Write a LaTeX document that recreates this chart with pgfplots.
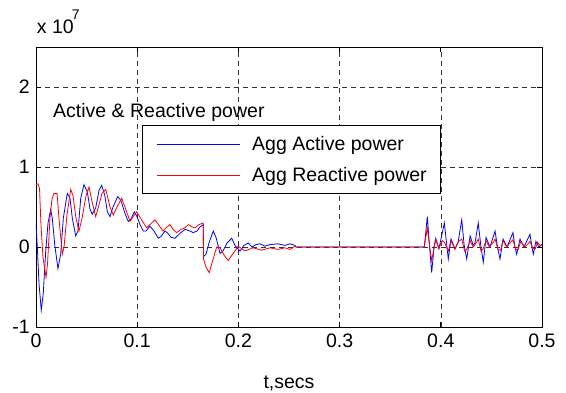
\documentclass[border=0pt]{standalone}
\usepackage{pgfplots}
\pgfplotsset{compat=1.18}
\usepackage{fontspec}
\setmainfont{Liberation Sans}
\definecolor{mblue}{RGB}{0,0,255}
\definecolor{mred}{RGB}{255,0,0}
\begin{document}
\begin{tikzpicture}
\useasboundingbox (-36pt,-65pt) rectangle (530pt,327pt);
\begin{axis}[
  at={(0pt,0pt)}, anchor=south west,
  scale only axis, width=506pt, height=280pt,
  xmin=0, xmax=0.5, ymin=-1, ymax=2.5,
  xtick={0,0.1,0.2,0.3,0.4,0.5},
  xticklabels={0,0.1,0.2,0.3,0.4,0.5},
  ytick={-1,0,1,2},
  yticklabels={-1,0,1,2},
  font=\fontsize{19.5}{23}\selectfont,
  xticklabel style={inner sep=0pt, yshift=-7pt},
  yticklabel style={inner sep=0pt, xshift=-6pt},
  tick align=inside, major tick length=5pt,
  tick style={black, line width=0.6pt},
  axis line style={black, line width=0.8pt},
  grid=major,
  major grid style={black!80, line width=0.5pt, dash pattern=on 5pt off 4pt},
  xlabel={t,secs},
  xlabel style={at={(rel axis cs:0.5,0)}, anchor=base, yshift=-61pt, inner sep=0pt},
  legend style={at={(rel axis cs:0.2095,0.721)}, anchor=north west,
    draw=black, line width=0.8pt, fill=white,
    inner xsep=14pt, inner ysep=11pt, row sep=15pt,
    nodes={inner sep=0pt},
    /tikz/every odd column/.append style={column sep=12pt},
    font=\fontsize{19.5}{23}\selectfont},
  legend cell align=left,
  legend image code/.code={\draw[#1] (0pt,0pt) -- (83pt,0pt);},
  clip=true,
]
\addplot[mblue, line width=0.8pt] coordinates {
(0.0000,0.30) (0.0013,0.00) (0.0030,-0.46) (0.0052,-0.79) (0.0072,-0.58)
(0.0096,-0.05) (0.0119,0.30) (0.0145,0.47) (0.0161,0.36) (0.0185,0.03)
(0.0217,-0.27) (0.0244,-0.09) (0.0270,0.36) (0.0309,0.67) (0.0336,0.61)
(0.0359,0.36) (0.0392,0.14) (0.0415,0.20) (0.0442,0.61) (0.0474,0.78)
(0.0507,0.69) (0.0534,0.47) (0.0556,0.41) (0.0590,0.49) (0.0623,0.71)
(0.0649,0.77) (0.0679,0.65) (0.0705,0.44) (0.0731,0.38) (0.0761,0.50)
(0.0807,0.63) (0.0840,0.58) (0.0879,0.42) (0.0912,0.32) (0.0939,0.35)
(0.0971,0.44) (0.0998,0.38) (0.1028,0.28) (0.1060,0.20) (0.1087,0.20)
(0.1126,0.26) (0.1166,0.20) (0.1208,0.11) (0.1235,0.13) (0.1275,0.20)
(0.1304,0.17) (0.1334,0.12) (0.1374,0.11) (0.1423,0.17) (0.1472,0.22)
(0.1522,0.20) (0.1554,0.18) (0.1591,0.20) (0.1621,0.25) (0.1653,0.28)
(0.1655,-0.12) (0.1680,-0.09) (0.1709,0.05) (0.1752,0.20) (0.1779,0.12)
(0.1818,-0.08) (0.1848,-0.05) (0.1887,0.05) (0.1934,0.11) (0.1966,0.02)
(0.2016,-0.05) (0.2055,0.02) (0.2098,0.05) (0.2134,0.00) (0.2174,0.03)
(0.2213,0.04) (0.2263,0.01) (0.2312,0.03) (0.2391,0.04) (0.2460,0.02)
(0.2510,0.04) (0.2559,0.02) (0.2569,0.00) (0.3837,0.00)
(0.3867,0.38) (0.3883,0.10) (0.3910,-0.32) (0.3933,0.00) (0.3950,0.11)
(0.3982,-0.02) (0.4035,0.30) (0.4074,-0.15) (0.4101,0.10) (0.4140,-0.02)
(0.4170,0.05) (0.4207,0.34) (0.4230,0.03) (0.4256,-0.15) (0.4290,0.14)
(0.4320,0.02) (0.4338,0.05) (0.4370,0.30) (0.4397,0.00) (0.4420,-0.19)
(0.4447,0.12) (0.4486,0.00) (0.4536,0.20) (0.4560,0.00) (0.4585,-0.15)
(0.4615,0.10) (0.4654,0.00) (0.4713,0.18) (0.4733,0.00) (0.4750,-0.09)
(0.4783,0.10) (0.4822,0.00) (0.4881,0.16) (0.4901,0.00) (0.4914,-0.09)
(0.4940,0.07) (0.4970,0.00) (0.5000,0.03)
};
\addlegendentry{Agg Active power}
\addplot[mred, line width=0.8pt] coordinates {
(0.0000,0.78) (0.0020,0.79) (0.0035,0.73) (0.0049,0.28) (0.0069,-0.13)
(0.0099,-0.38) (0.0114,-0.21) (0.0138,0.36) (0.0158,0.60) (0.0178,0.67)
(0.0208,0.67) (0.0227,0.36) (0.0260,-0.09) (0.0277,0.00) (0.0306,0.40)
(0.0343,0.72) (0.0366,0.64) (0.0395,0.36) (0.0425,0.20) (0.0455,0.36)
(0.0494,0.64) (0.0524,0.75) (0.0553,0.57) (0.0590,0.38) (0.0623,0.53)
(0.0652,0.67) (0.0689,0.72) (0.0711,0.61) (0.0731,0.50) (0.0764,0.40)
(0.0800,0.50) (0.0847,0.61) (0.0879,0.50) (0.0929,0.32) (0.0959,0.38)
(0.0995,0.44) (0.1038,0.35) (0.1094,0.24) (0.1126,0.28) (0.1176,0.34)
(0.1216,0.27) (0.1255,0.20) (0.1285,0.24) (0.1324,0.28) (0.1354,0.22)
(0.1390,0.18) (0.1433,0.22) (0.1472,0.24) (0.1505,0.28) (0.1542,0.25)
(0.1571,0.24) (0.1611,0.28) (0.1653,0.30) (0.1655,-0.15) (0.1680,-0.25)
(0.1712,-0.32) (0.1739,-0.20) (0.1786,0.00) (0.1818,-0.01) (0.1858,-0.10)
(0.1900,-0.17) (0.1937,-0.10) (0.1999,0.01) (0.2065,-0.05) (0.2144,-0.01)
(0.2230,-0.04) (0.2312,-0.01) (0.2391,-0.03) (0.2460,-0.01) (0.2510,-0.03)
(0.2559,0.01) (0.2569,0.00) (0.3837,0.00)
(0.3867,0.24) (0.3885,0.05) (0.3910,-0.17) (0.3935,0.00) (0.3950,0.09)
(0.3980,-0.02) (0.4015,0.08) (0.4035,0.06) (0.4074,-0.05) (0.4100,0.08)
(0.4140,-0.03) (0.4170,0.06) (0.4207,0.10) (0.4235,-0.05) (0.4256,-0.03)
(0.4290,0.08) (0.4320,0.00) (0.4350,0.05) (0.4370,0.10) (0.4397,-0.05)
(0.4420,-0.02) (0.4447,0.08) (0.4480,0.00) (0.4520,0.06) (0.4536,0.10)
(0.4565,-0.03) (0.4590,-0.04) (0.4615,0.08) (0.4650,0.00) (0.4690,0.06)
(0.4713,0.09) (0.4740,-0.03) (0.4765,-0.03) (0.4790,0.07) (0.4830,0.00)
(0.4870,0.05) (0.4881,0.07) (0.4910,-0.02) (0.4935,-0.02) (0.4955,0.06)
(0.4980,0.02) (0.5000,0.03)
};
\addlegendentry{Agg Reactive power}
\node[anchor=base west, inner sep=0pt] at (axis cs:0.0168,1.617) {Active \& Reactive power};
\end{axis}
\node[anchor=base west, inner sep=0pt, font=\fontsize{19.5}{23}\selectfont] at (0.7pt,294pt) {x 10};
\node[anchor=base west, inner sep=0pt, font=\fontsize{14}{14}\selectfont] at (35.7pt,308pt) {7};
\end{tikzpicture}
\end{document}
